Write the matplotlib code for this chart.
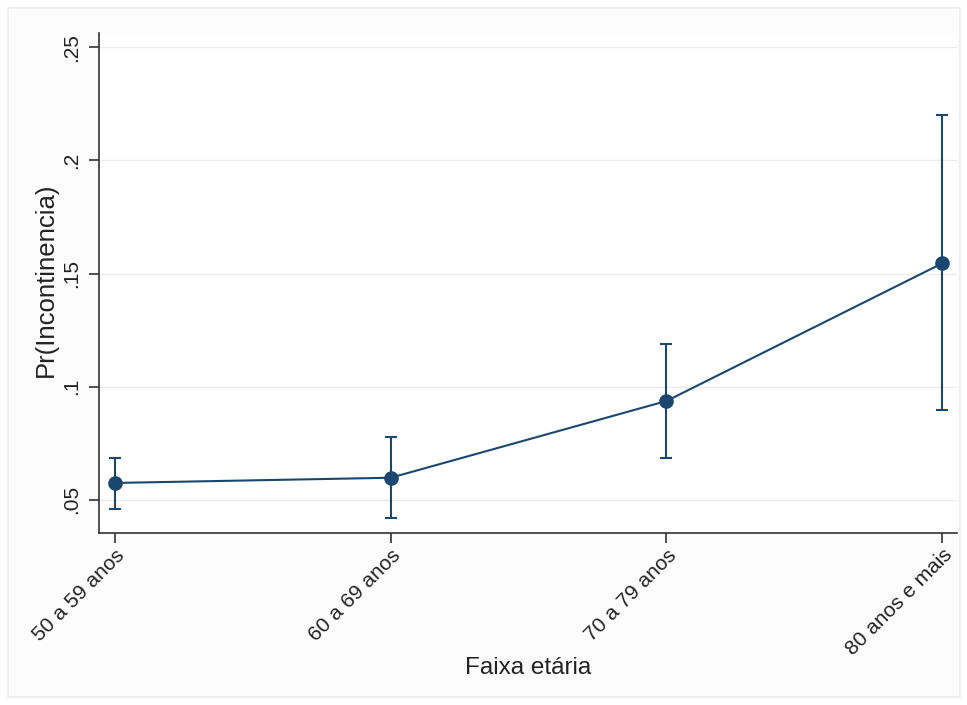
import matplotlib.pyplot as plt
from matplotlib.patches import Rectangle

plt.rcParams['font.family'] = ['Liberation Sans', 'DejaVu Sans']

# predicted margins by age group, with 95% CI
faixas = ['50 a 59 anos', '60 a 69 anos', '70 a 79 anos', '80 anos e mais']
pr = [0.0575, 0.0598, 0.0937, 0.1545]
ci_low = [0.0459, 0.0419, 0.0687, 0.0897]
ci_high = [0.0687, 0.0777, 0.1190, 0.2199]

yticks = [0.05, 0.10, 0.15, 0.20, 0.25]
ytick_labels = ['.05', '.1', '.15', '.2', '.25']

navy = '#1a476f'

fig = plt.figure(figsize=(9.67, 7.05), dpi=100)
fig.patch.set_facecolor('white')
# faint graph region frame, kept behind the axes
frame = Rectangle((0.008, 0.012), 0.985, 0.977, transform=fig.transFigure,
                  facecolor='#fcfcfc', edgecolor='#ececec', lw=1.2, zorder=-10)
fig.patches.append(frame)

ax = fig.add_axes([0.1024, 0.244, 0.8873, 0.709])
ax.set_facecolor('white')

x = list(range(len(faixas)))
yerr = [[p - lo for p, lo in zip(pr, ci_low)], [hi - p for p, hi in zip(pr, ci_high)]]
ax.errorbar(x, pr, yerr=yerr, fmt='none', ecolor=navy, elinewidth=1.5,
            capsize=4.3, capthick=1.5, zorder=3)
ax.plot(x, pr, color=navy, lw=1.5, marker='o', ms=9.5, zorder=4)

ax.set_xlim(-0.058, 3.054)
ax.set_ylim(0.0354, 0.2562)
ax.set_yticks(yticks)
ax.set_yticklabels(ytick_labels, rotation=90, va='center', fontsize=15)
ax.set_xticks(x)
ax.set_xticklabels(faixas, rotation=45, ha='right', rotation_mode='anchor', fontsize=15)

for yt in yticks:
    ax.axhline(yt, color='#ebebeb', lw=1.0, zorder=1)

for side in ['top', 'right']:
    ax.spines[side].set_visible(False)
for side in ['left', 'bottom']:
    ax.spines[side].set_color('#333333')
    ax.spines[side].set_linewidth(1.2)
ax.tick_params(direction='out', length=7, width=1.2, color='#333333', labelcolor='#222222')
ax.tick_params(axis='y', pad=6)
ax.tick_params(axis='x', pad=2)

ax.set_xlabel('Faixa etária', fontsize=17.5, color='#222222')
ax.set_ylabel('Pr(Incontinencia)', fontsize=18.5, color='#222222')
ax.xaxis.set_label_coords(0.5, -0.248)
ax.yaxis.set_label_coords(-0.048, 0.506)

fig.savefig('out.png', dpi=100)
